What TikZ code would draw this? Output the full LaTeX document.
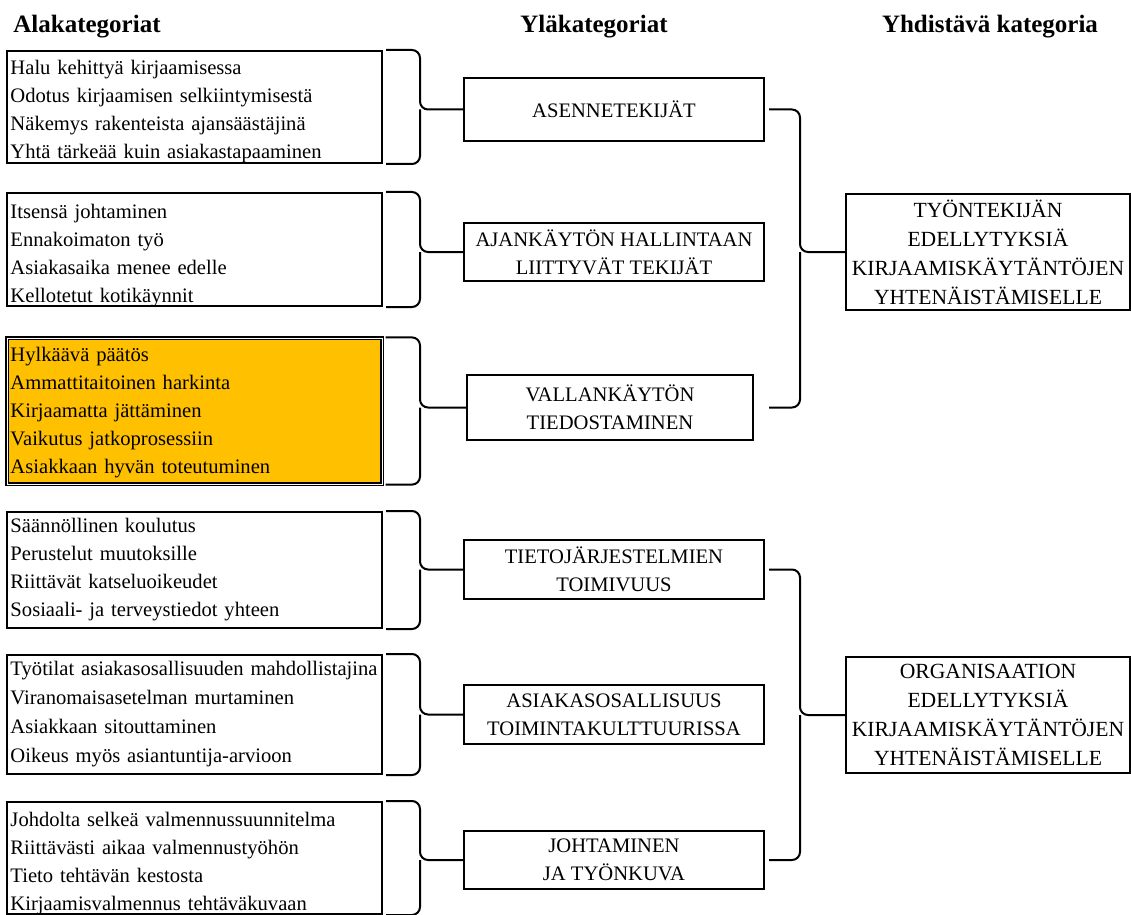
\documentclass[tikz,border=0pt]{standalone}
\usepackage{fontspec}
\setmainfont{Liberation Serif}
\definecolor{oranssi}{HTML}{FFC000}

\begin{document}
\begin{tikzpicture}[
  x=0.5pt, y=-0.5pt,
  font=\fontsize{10.3}{14}\selectfont,
  otsikko/.style={font=\fontsize{12.5}{15}\selectfont\bfseries, inner sep=0pt},
  alabox/.style={draw, line width=1pt, align=left, inner xsep=1.75pt, inner ysep=0pt, text width=184pt},
  alas/.style={execute at end node={\endgraf\vspace*{-#1}}},
  ylabox/.style={draw, line width=1pt, align=center, minimum width=150pt, inner sep=1pt},
  yhdbox/.style={draw, line width=1pt, align=center, minimum width=142pt, minimum height=58pt, inner sep=1pt, font=\fontsize{10.8}{14.5}\selectfont},
  sulku/.style={line width=1pt, rounded corners=4pt}
]
\useasboundingbox (0,0) rectangle (1131,915);

\node[otsikko, anchor=base west] (ala) at (13,33) {Alakategoriat};
\node[otsikko, anchor=base] (yla) at (594,33) {Yläkategoriat};
\node[otsikko, anchor=base] (yhd) at (990,33) {Yhdistävä kategoria};

\node[alabox, alas=5pt, minimum height=56pt] (ala1) at (194.5,107) {Halu kehittyä kirjaamisessa\\Odotus kirjaamisen selkiintymisestä\\Näkemys rakenteista ajansäästäjinä\\Yhtä tärkeää kuin asiakastapaaminen};
\node[alabox, alas=6pt, minimum height=56.5pt] (ala2) at (194.5,249.5) {Itsensä johtaminen\\Ennakoimaton työ\\Asiakasaika menee edelle\\Kellotetut kotikäynnit};
\node[alabox, alas=2pt, minimum height=73pt, fill=oranssi, line width=0.6pt, double=white, double distance=0.5pt] (ala3) at (194.5,411) {Hylkäävä päätös\\Ammattitaitoinen harkinta\\Kirjaamatta jättäminen\\Vaikutus jatkoprosessiin\\Asiakkaan hyvän toteutuminen};
\node[alabox, minimum height=58pt] (ala4) at (194.5,570) {Säännöllinen koulutus\\Perustelut muutoksille\\Riittävät katseluoikeudet\\Sosiaali- ja terveystiedot yhteen};
\node[alabox, minimum height=59.5pt, font=\fontsize{10.3}{14.5}\selectfont] (ala5) at (194.5,714.5) {Työtilat asiakasosallisuuden mahdollistajina\\Viranomaisasetelman murtaminen\\Asiakkaan sitouttaminen\\Oikeus myös asiantuntija-arvioon};
\node[alabox, alas=5.5pt, minimum height=56pt] (ala6) at (194.5,858) {Johdolta selkeä valmennussuunnitelma\\Riittävästi aikaa valmennustyöhön\\Tieto tehtävän kestosta\\Kirjaamisvalmennus tehtäväkuvaan};

\node[ylabox, minimum height=31.5pt] (yla1) at (614,109.5) {ASENNETEKIJÄT};
\node[ylabox, minimum height=29pt] (yla2) at (614,252) {AJANKÄYTÖN HALLINTAAN\\LIITTYVÄT TEKIJÄT};
\node[ylabox, minimum width=143pt, minimum height=32.5pt] (yla3) at (610,407.5) {VALLANKÄYTÖN\\TIEDOSTAMINEN};
\node[ylabox, minimum height=29.5pt] (yla4) at (614,569.5) {TIETOJÄRJESTELMIEN\\TOIMIVUUS};
\node[ylabox, minimum height=29.5pt] (yla5) at (614,714.5) {ASIAKASOSALLISUUS\\TOIMINTAKULTTUURISSA};
\node[ylabox, minimum height=29pt] (yla6) at (614,860) {JOHTAMINEN\\JA TYÖNKUVA};

\node[yhdbox] (yhd1) at (988,252) {TYÖNTEKIJÄN\\EDELLYTYKSIÄ\\KIRJAAMISKÄYTÄNTÖJEN\\YHTENÄISTÄMISELLE};
\node[yhdbox] (yhd2) at (988,715) {ORGANISAATION\\EDELLYTYKSIÄ\\KIRJAAMISKÄYTÄNTÖJEN\\YHTENÄISTÄMISELLE};

% sulkeiden selkärangat
\coordinate (selka) at (420,0);
\coordinate (selka2) at (800,0);

% alakategoriat -> yläkategoriat
\draw[sulku] ([xshift=1.5pt]ala1.north east) -| (selka |- yla1.west) -- (yla1.west) ([xshift=1.5pt]ala1.south east) -| (selka |- yla1.west);
\draw[sulku] ([xshift=1.5pt]ala2.north east) -| (selka |- yla2.west) -- (yla2.west) ([xshift=1.5pt]ala2.south east) -| (selka |- yla2.west);
\draw[sulku] ([xshift=1.5pt]ala3.north east) -| (selka |- yla3.west) -- (yla3.west) ([xshift=1.5pt]ala3.south east) -| (selka |- yla3.west);
\draw[sulku] ([xshift=1.5pt]ala4.north east) -| (selka |- yla4.west) -- (yla4.west) ([xshift=1.5pt]ala4.south east) -| (selka |- yla4.west);
\draw[sulku] ([xshift=1.5pt]ala5.north east) -| (selka |- yla5.west) -- (yla5.west) ([xshift=1.5pt]ala5.south east) -| (selka |- yla5.west);
\draw[sulku] ([xshift=1.5pt]ala6.north east) -| (selka |- yla6.west) -- (yla6.west) ([xshift=1.5pt]ala6.south east) -| (selka |- yla6.west);

% yläkategoriat -> yhdistävä kategoria
\draw[sulku] ([xshift=2pt]yla1.east) -| (selka2 |- yhd1.west) -- (yhd1.west) ([xshift=7.5pt]yla3.east) -| (selka2 |- yhd1.west);
\draw[sulku] ([xshift=2pt]yla4.east) -| (selka2 |- yhd2.west) -- (yhd2.west) ([xshift=2pt]yla6.east) -| (selka2 |- yhd2.west);
\end{tikzpicture}
\end{document}
